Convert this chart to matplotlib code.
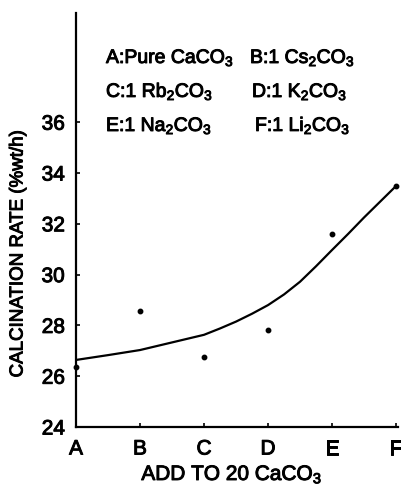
import matplotlib
matplotlib.use("Agg")
import matplotlib.pyplot as plt
import matplotlib.patheffects as pe

categories = ['A', 'B', 'C', 'D', 'E', 'F']
rate = [26.37, 28.58, 26.77, 27.81, 31.60, 33.49]
fit_pos = [0, 0.5, 1, 1.5, 2, 2.25, 2.5, 2.75, 3, 3.25, 3.5, 3.75, 4, 4.25, 4.5, 4.75, 5]
fit_rate = [26.64, 26.83, 27.03, 27.33, 27.63, 27.88, 28.15, 28.46, 28.80,
            29.22, 29.72, 30.33, 30.97, 31.60, 32.25, 32.87, 33.49]
y_ticks = [24, 26, 28, 30, 32, 34, 36]
legend_left = ['A:Pure CaCO$_3$', 'C:1 Rb$_2$CO$_3$', 'E:1 Na$_2$CO$_3$']
legend_right = ['B:1 Cs$_2$CO$_3$', 'D:1 K$_2$CO$_3$', 'F:1 Li$_2$CO$_3$']

plt.rcParams['font.family'] = ['Liberation Sans', 'DejaVu Sans']
plt.rcParams['mathtext.fontset'] = 'custom'
plt.rcParams['mathtext.rm'] = 'Liberation Sans'
plt.rcParams['mathtext.it'] = 'Liberation Sans:italic'
plt.rcParams['mathtext.bf'] = 'Liberation Sans:bold'

thick = [pe.withStroke(linewidth=0.7, foreground='black')]

W, H = 402, 487
fig = plt.figure(figsize=(W / 100, H / 100), dpi=100)
ax = fig.add_axes([76 / W, 1 - 427 / H, (398 - 76) / W, (427 - 13) / H])

x = list(range(len(categories)))
ax.plot(fit_pos, fit_rate, color='black', lw=1.6, solid_capstyle='round',
        solid_joinstyle='round')
ax.plot(x, rate, 'o', color='black', markersize=3.2, clip_on=False)

ax.set_xlim(0, 5.03)
ax.set_ylim(24, 40.3)
ax.set_xticks(x)
ax.set_xticklabels(categories)
ax.set_yticks(y_ticks)
ax.tick_params(axis='both', direction='in', length=3, width=1.2, labelsize=15)
ax.tick_params(axis='x', pad=9)
ax.tick_params(axis='y', pad=8)
for lab in ax.get_xticklabels() + ax.get_yticklabels():
    lab.set_path_effects(thick)
for s in ['top', 'right']:
    ax.spines[s].set_visible(False)
for s in ['left', 'bottom']:
    ax.spines[s].set_linewidth(1.6)

rows_y = [63, 97, 131]
left_x = [106, 106, 106]
right_x = [250, 252, 255]
for i in range(3):
    fig.text(left_x[i] / W, 1 - rows_y[i] / H, legend_left[i], fontsize=14,
             ha='left', va='baseline', path_effects=thick)
    fig.text(right_x[i] / W, 1 - rows_y[i] / H, legend_right[i], fontsize=14,
             ha='left', va='baseline', path_effects=thick)

fig.text(232 / W, 1 - 480 / H, 'ADD TO 20 CaCO$_3$', fontsize=15,
         ha='center', va='baseline', path_effects=thick)
fig.text(18 / W, 1 - 254 / H, 'CALCINATION RATE (%wt/h)', fontsize=13.5,
         rotation=90, ha='center', va='center', path_effects=thick)

fig.savefig('out.png', dpi=100)
